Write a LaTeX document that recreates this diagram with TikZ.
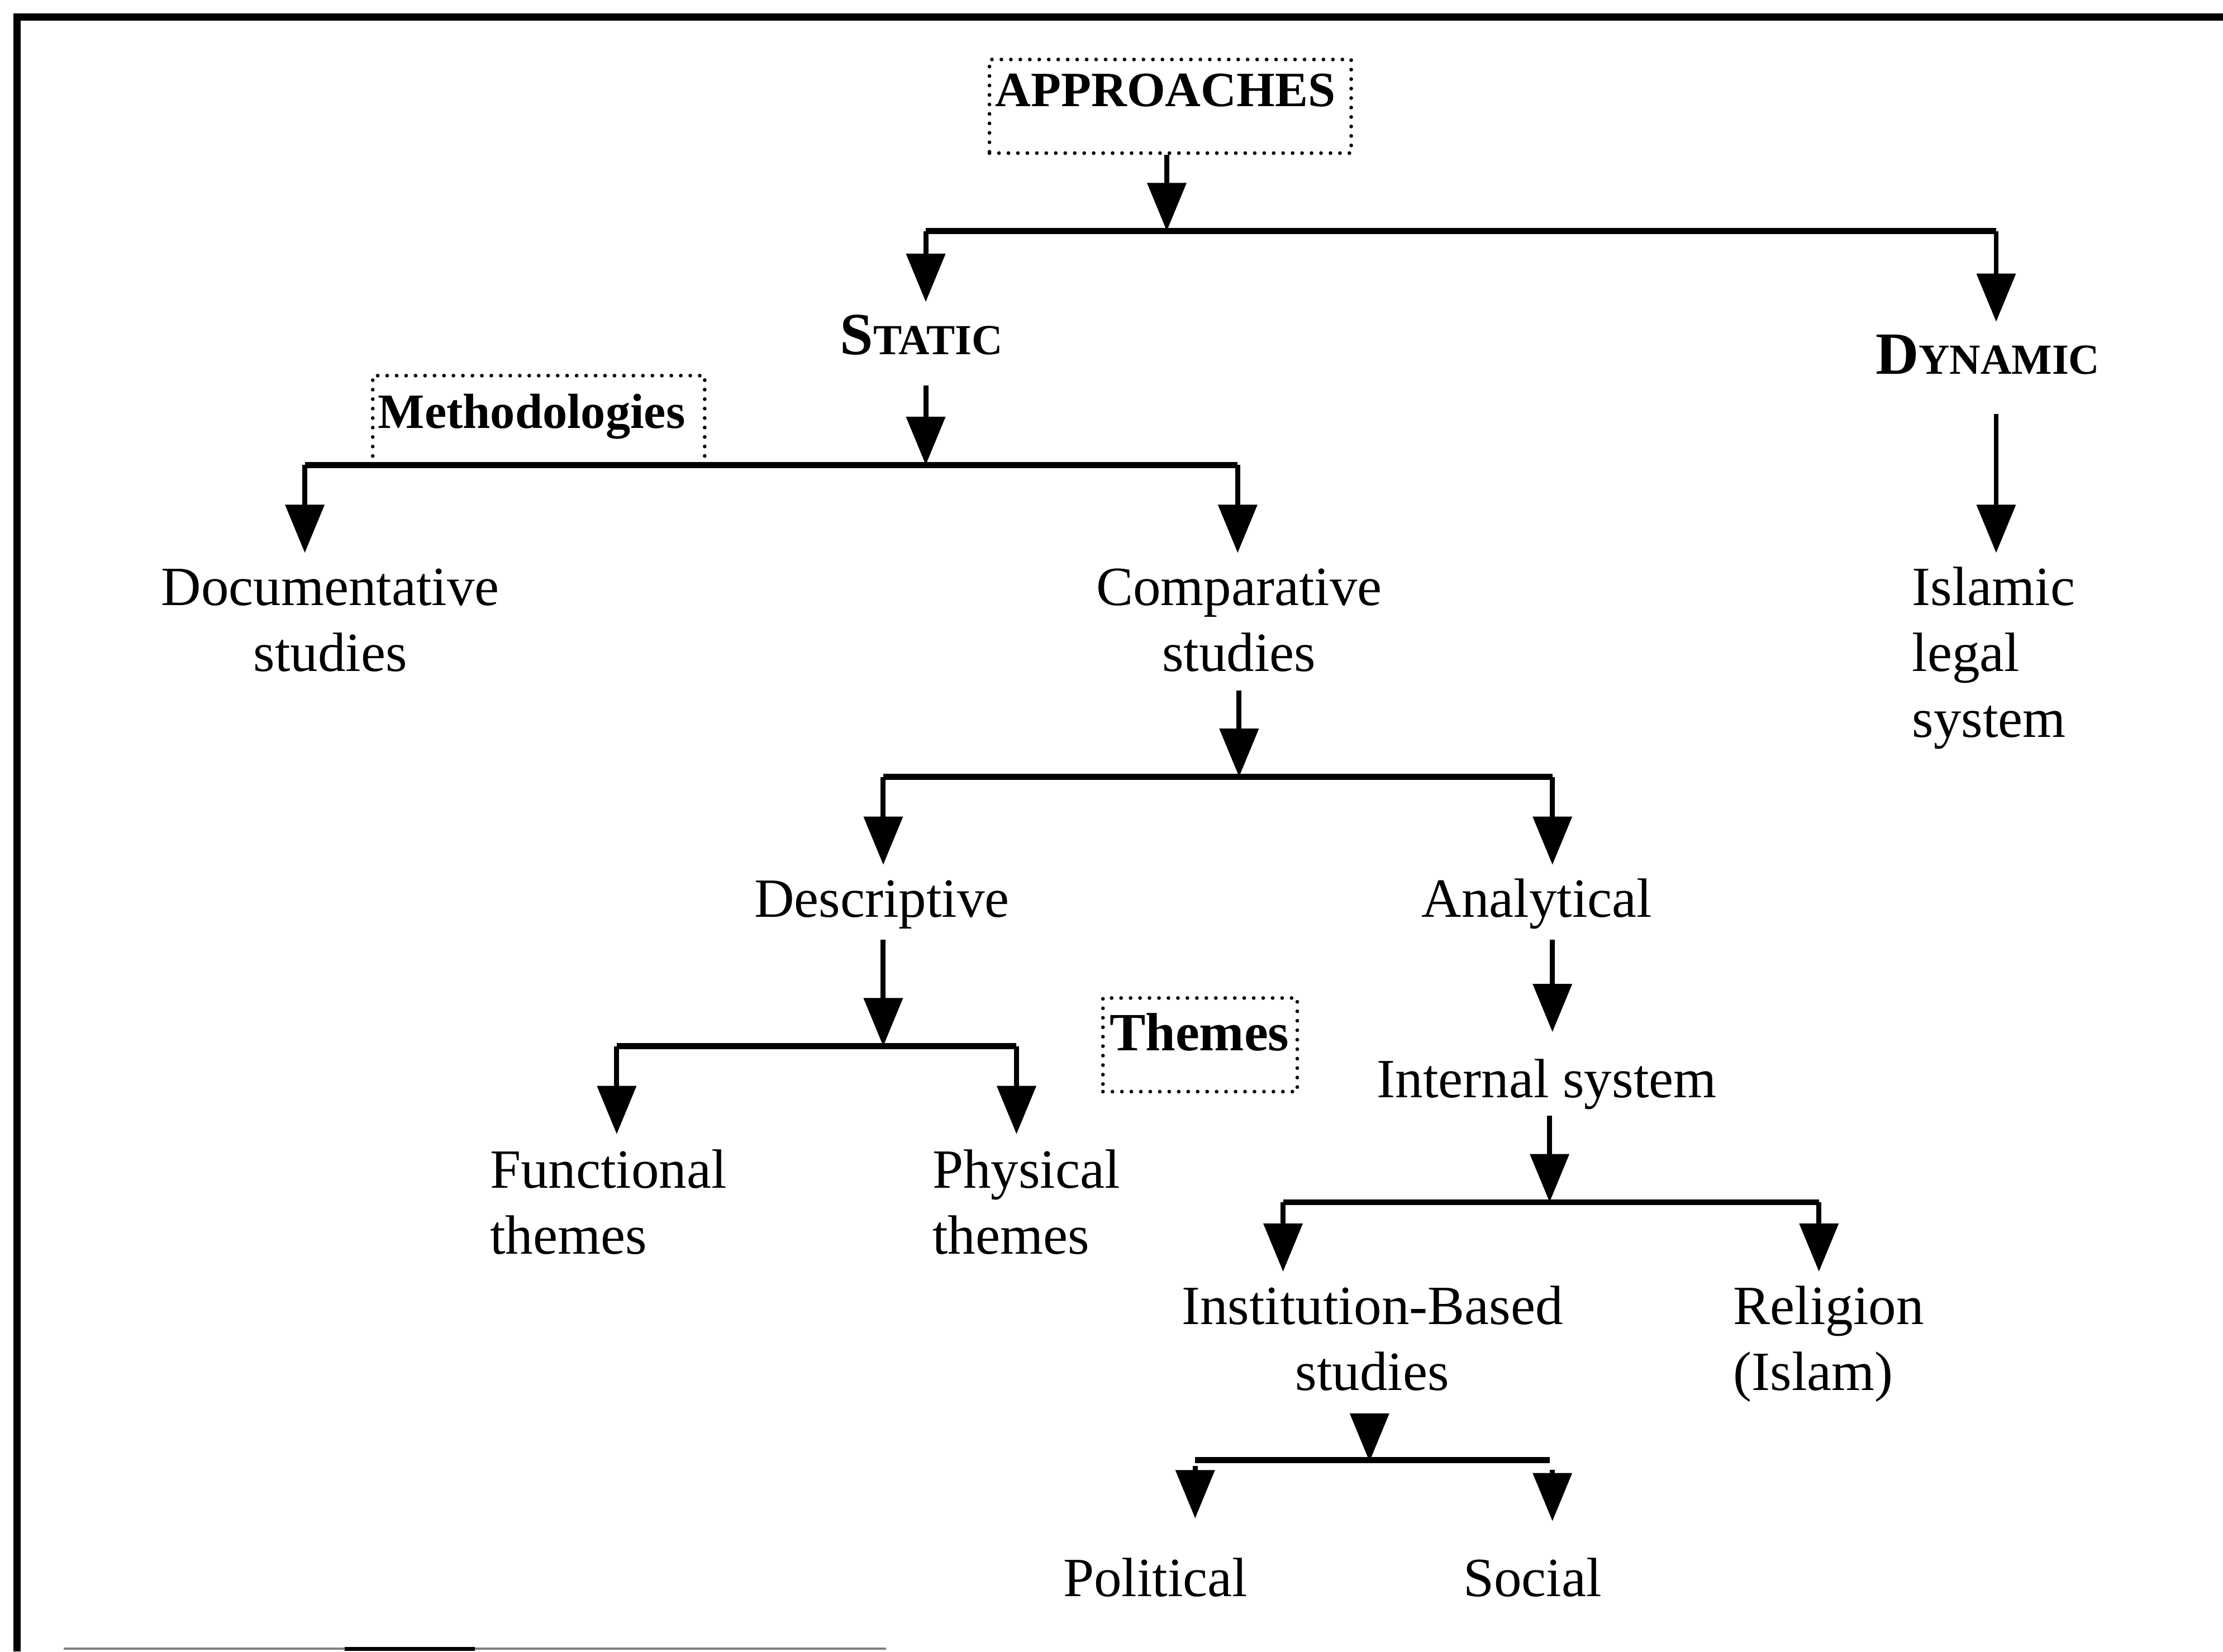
\documentclass[tikz,border=0pt]{standalone}
\usepackage{fontspec}
\setmainfont{Liberation Serif}
\usetikzlibrary{arrows.meta}

\begin{document}
\begin{tikzpicture}[x=0.01cm,y=-0.01cm,
  lbl/.style={inner sep=0pt, font=\fontsize{11.1}{13.2}\selectfont, align=center, anchor=base},
  lblL/.style={lbl, align=left, anchor=base west},
  bold/.style={inner sep=0pt, font=\bfseries\fontsize{9.9}{12}\selectfont, anchor=base},
  dotbox/.style={draw, line width=0.75pt, dash pattern=on 0pt off 1.9pt, line cap=round, inner sep=0pt},
  arr/.style={line width=1pt, -{Triangle[length=3.4mm,width=2.7mm]}},
  bus/.style={line width=1.2pt},
]
\useasboundingbox (0,0) rectangle (1568,1165);

% outer frame
\draw[line width=1.4pt] (1568,12) -- (12,12) -- (12,1165);
\draw[gray, line width=0.5pt] (45,1163) -- (625,1163);
\draw[line width=0.8pt] (243,1163) -- (335,1163);

% ---- APPROACHES
\node[dotbox, minimum width=2.55cm, minimum height=0.66cm] (appbox) at (825.5,75) {};
\node[bold] (app) at (822,75) {APPROACHES};
\coordinate (j1) at (823,163);
\coordinate (j1L) at (653,163);
\coordinate (j1R) at (1408,163);
\draw[arr] (appbox.south -| j1) -- (j1);
\draw[bus] (j1L) -- (j1R);

% ---- STATIC / DYNAMIC
\node[lbl, font=\bfseries] (static) at (650,250)
  {{\fontsize{12}{12}\selectfont S}{\fontsize{8.6}{12}\selectfont TATIC}};
\node[lbl, font=\bfseries] (dynamic) at (1402,264)
  {{\fontsize{12}{12}\selectfont D}{\fontsize{8.6}{12}\selectfont YNAMIC}};
\coordinate (static-in) at (653,213);
\coordinate (dynamic-in) at (1408,227);
\draw[arr] (j1L) -- (static-in);
\draw[arr] (j1R) -- (dynamic-in);

% ---- Methodologies
\node[dotbox, minimum width=2.34cm, minimum height=0.63cm] (methbox) at (380,296.5) {};
\node[bold] (meth) at (375,302) {Methodologies};
\coordinate (static-out) at (653,272);
\coordinate (j2) at (653,328);
\coordinate (j2L) at (215,328);
\coordinate (j2R) at (873,328);
\draw[arr] (static-out) -- (j2);
\draw[bus] (j2L) -- (j2R);
\coordinate (doc-in) at (215,390);
\coordinate (comp-in) at (873,390);
\draw[arr] (j2L) -- (doc-in);
\draw[arr] (j2R) -- (comp-in);
% multi-line labels sit on the baseline of their last line
\node[lbl] (doc) at (233,473.5) {Documentative\\studies};
\node[lbl] (comp) at (874,473.5) {Comparative\\studies};

% ---- Dynamic branch
\coordinate (dynamic-out) at (1408,292);
\coordinate (islamic-in) at (1408,390);
\draw[arr] (dynamic-out) -- (islamic-in);
\node[lblL] (islamic) at (1348,520) {Islamic\\legal\\system};

% ---- Comparative branch
\coordinate (comp-out) at (874,487);
\coordinate (j3) at (874,548);
\coordinate (j3L) at (623,548);
\coordinate (j3R) at (1095,548);
\draw[arr] (comp-out) -- (j3);
\draw[bus] (j3L) -- (j3R);
\coordinate (desc-in) at (623,610);
\coordinate (anal-in) at (1095,610);
\draw[arr] (j3L) -- (desc-in);
\draw[arr] (j3R) -- (anal-in);
\node[lbl] (desc) at (622,647) {Descriptive};
\node[lbl] (anal) at (1084,647) {Analytical};

% ---- Descriptive branch
\coordinate (desc-out) at (623,663);
\coordinate (j4) at (623,738);
\coordinate (j4L) at (435,738);
\coordinate (j4R) at (717,738);
\draw[arr] (desc-out) -- (j4);
\draw[bus] (j4L) -- (j4R);
\coordinate (func-in) at (435,800);
\coordinate (phys-in) at (717,800);
\draw[arr] (j4L) -- (func-in);
\draw[arr] (j4R) -- (phys-in);
\node[lblL] (func) at (345,884.5) {Functional\\themes};
\node[lblL] (phys) at (657,884.5) {Physical\\themes};

% ---- Themes label
\node[dotbox, minimum width=1.37cm, minimum height=0.66cm] (themebox) at (846.5,737) {};
\node[bold, font=\bfseries\fontsize{10.8}{12}\selectfont] (theme) at (846,741) {Themes};

% ---- Analytical branch
\coordinate (anal-out) at (1095,663);
\coordinate (int-in) at (1095,728);
\draw[arr] (anal-out) -- (int-in);
\node[lbl] (int) at (1091,774) {Internal system};
\coordinate (int-out) at (1093,787);
\coordinate (j5) at (1093,848);
\coordinate (j5L) at (905,848);
\coordinate (j5R) at (1283,848);
\draw[arr] (int-out) -- (j5);
\draw[bus] (j5L) -- (j5R);
\coordinate (inst-in) at (905,897);
\coordinate (rel-in) at (1283,897);
\draw[arr] (j5L) -- (inst-in);
\draw[arr] (j5R) -- (rel-in);
\node[lbl] (inst) at (968,980.5) {Institution-Based\\studies};
\node[lblL] (rel) at (1222,980.5) {Religion\\(Islam)};

% ---- Institution-based branch
\coordinate (inst-out) at (966,998);
\coordinate (j6) at (966,1031);
\coordinate (j6L) at (843,1030);
\coordinate (j6R) at (1093,1030);
\draw[arr] (inst-out) -- (j6);
\draw[bus] (j6L) -- (j6R);
\coordinate (pol-top) at (843,1034);
\coordinate (pol-in) at (843,1071);
\coordinate (soc-top) at (1095,1037);
\coordinate (soc-in) at (1095,1073);
\draw[arr] (pol-top) -- (pol-in);
\draw[arr] (soc-top) -- (soc-in);
\node[lbl] (pol) at (815,1126) {Political};
\node[lbl] (soc) at (1081,1126) {Social};
\end{tikzpicture}
\end{document}
